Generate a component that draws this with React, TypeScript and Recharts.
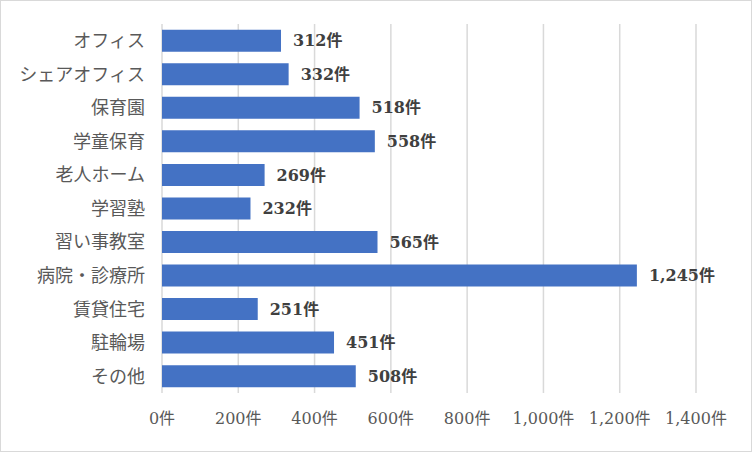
import { BarChart, Bar, XAxis, YAxis, CartesianGrid, LabelList } from "recharts";

const BAR_COLOR = "#4472C4";
const GRID_COLOR = "#d9d9d9";
const FONT = '"DejaVu Serif", "Noto Sans CJK JP", serif';

const categories = [
  "オフィス",
  "シェアオフィス",
  "保育園",
  "学童保育",
  "老人ホーム",
  "学習塾",
  "習い事教室",
  "病院・診療所",
  "賃貸住宅",
  "駐輪場",
  "その他",
];
const counts = [312, 332, 518, 558, 269, 232, 565, 1245, 251, 451, 508];
const xTicks = [0, 200, 400, 600, 800, 1000, 1200, 1400];

const data = categories.map((name, i) => ({ name, count: counts[i] }));

const fmt = (v: number) => `${Number(v).toLocaleString("en-US")}件`;

export default function App() {
  return (
    <div
      style={{
        position: "absolute",
        left: 0,
        top: 0,
        width: 752,
        height: 452,
        boxSizing: "border-box",
        border: `1px solid ${GRID_COLOR}`,
        background: "#fff",
      }}
    >
      <BarChart
        width={750}
        height={450}
        data={data}
        layout="vertical"
        barCategoryGap="17%"
        margin={{ top: 23, right: 55, bottom: 30, left: 11 }}
      >
        <CartesianGrid horizontal={false} stroke={GRID_COLOR} strokeWidth={1.5} />
        <XAxis
          type="number"
          domain={[0, 1400]}
          ticks={xTicks}
          tickFormatter={fmt}
          axisLine={false}
          tickLine={false}
          tickSize={0}
          tickMargin={20}
          height={28}
          tick={{ fontSize: 16, fill: "#595959", fontFamily: FONT }}
        />
        <YAxis
          type="category"
          dataKey="name"
          width={150}
          axisLine={false}
          tickLine={false}
          tickSize={0}
          tickMargin={17}
          tick={{ fontSize: 18, fill: "#595959", fontFamily: FONT }}
        />
        <Bar dataKey="count" fill={BAR_COLOR} isAnimationActive={false}>
          <LabelList
            dataKey="count"
            position="right"
            offset={12}
            formatter={(v: any) => fmt(v)}
            style={{ fontSize: 16, fontWeight: "bold", fill: "#404040", fontFamily: FONT }}
          />
        </Bar>
      </BarChart>
    </div>
  );
}
